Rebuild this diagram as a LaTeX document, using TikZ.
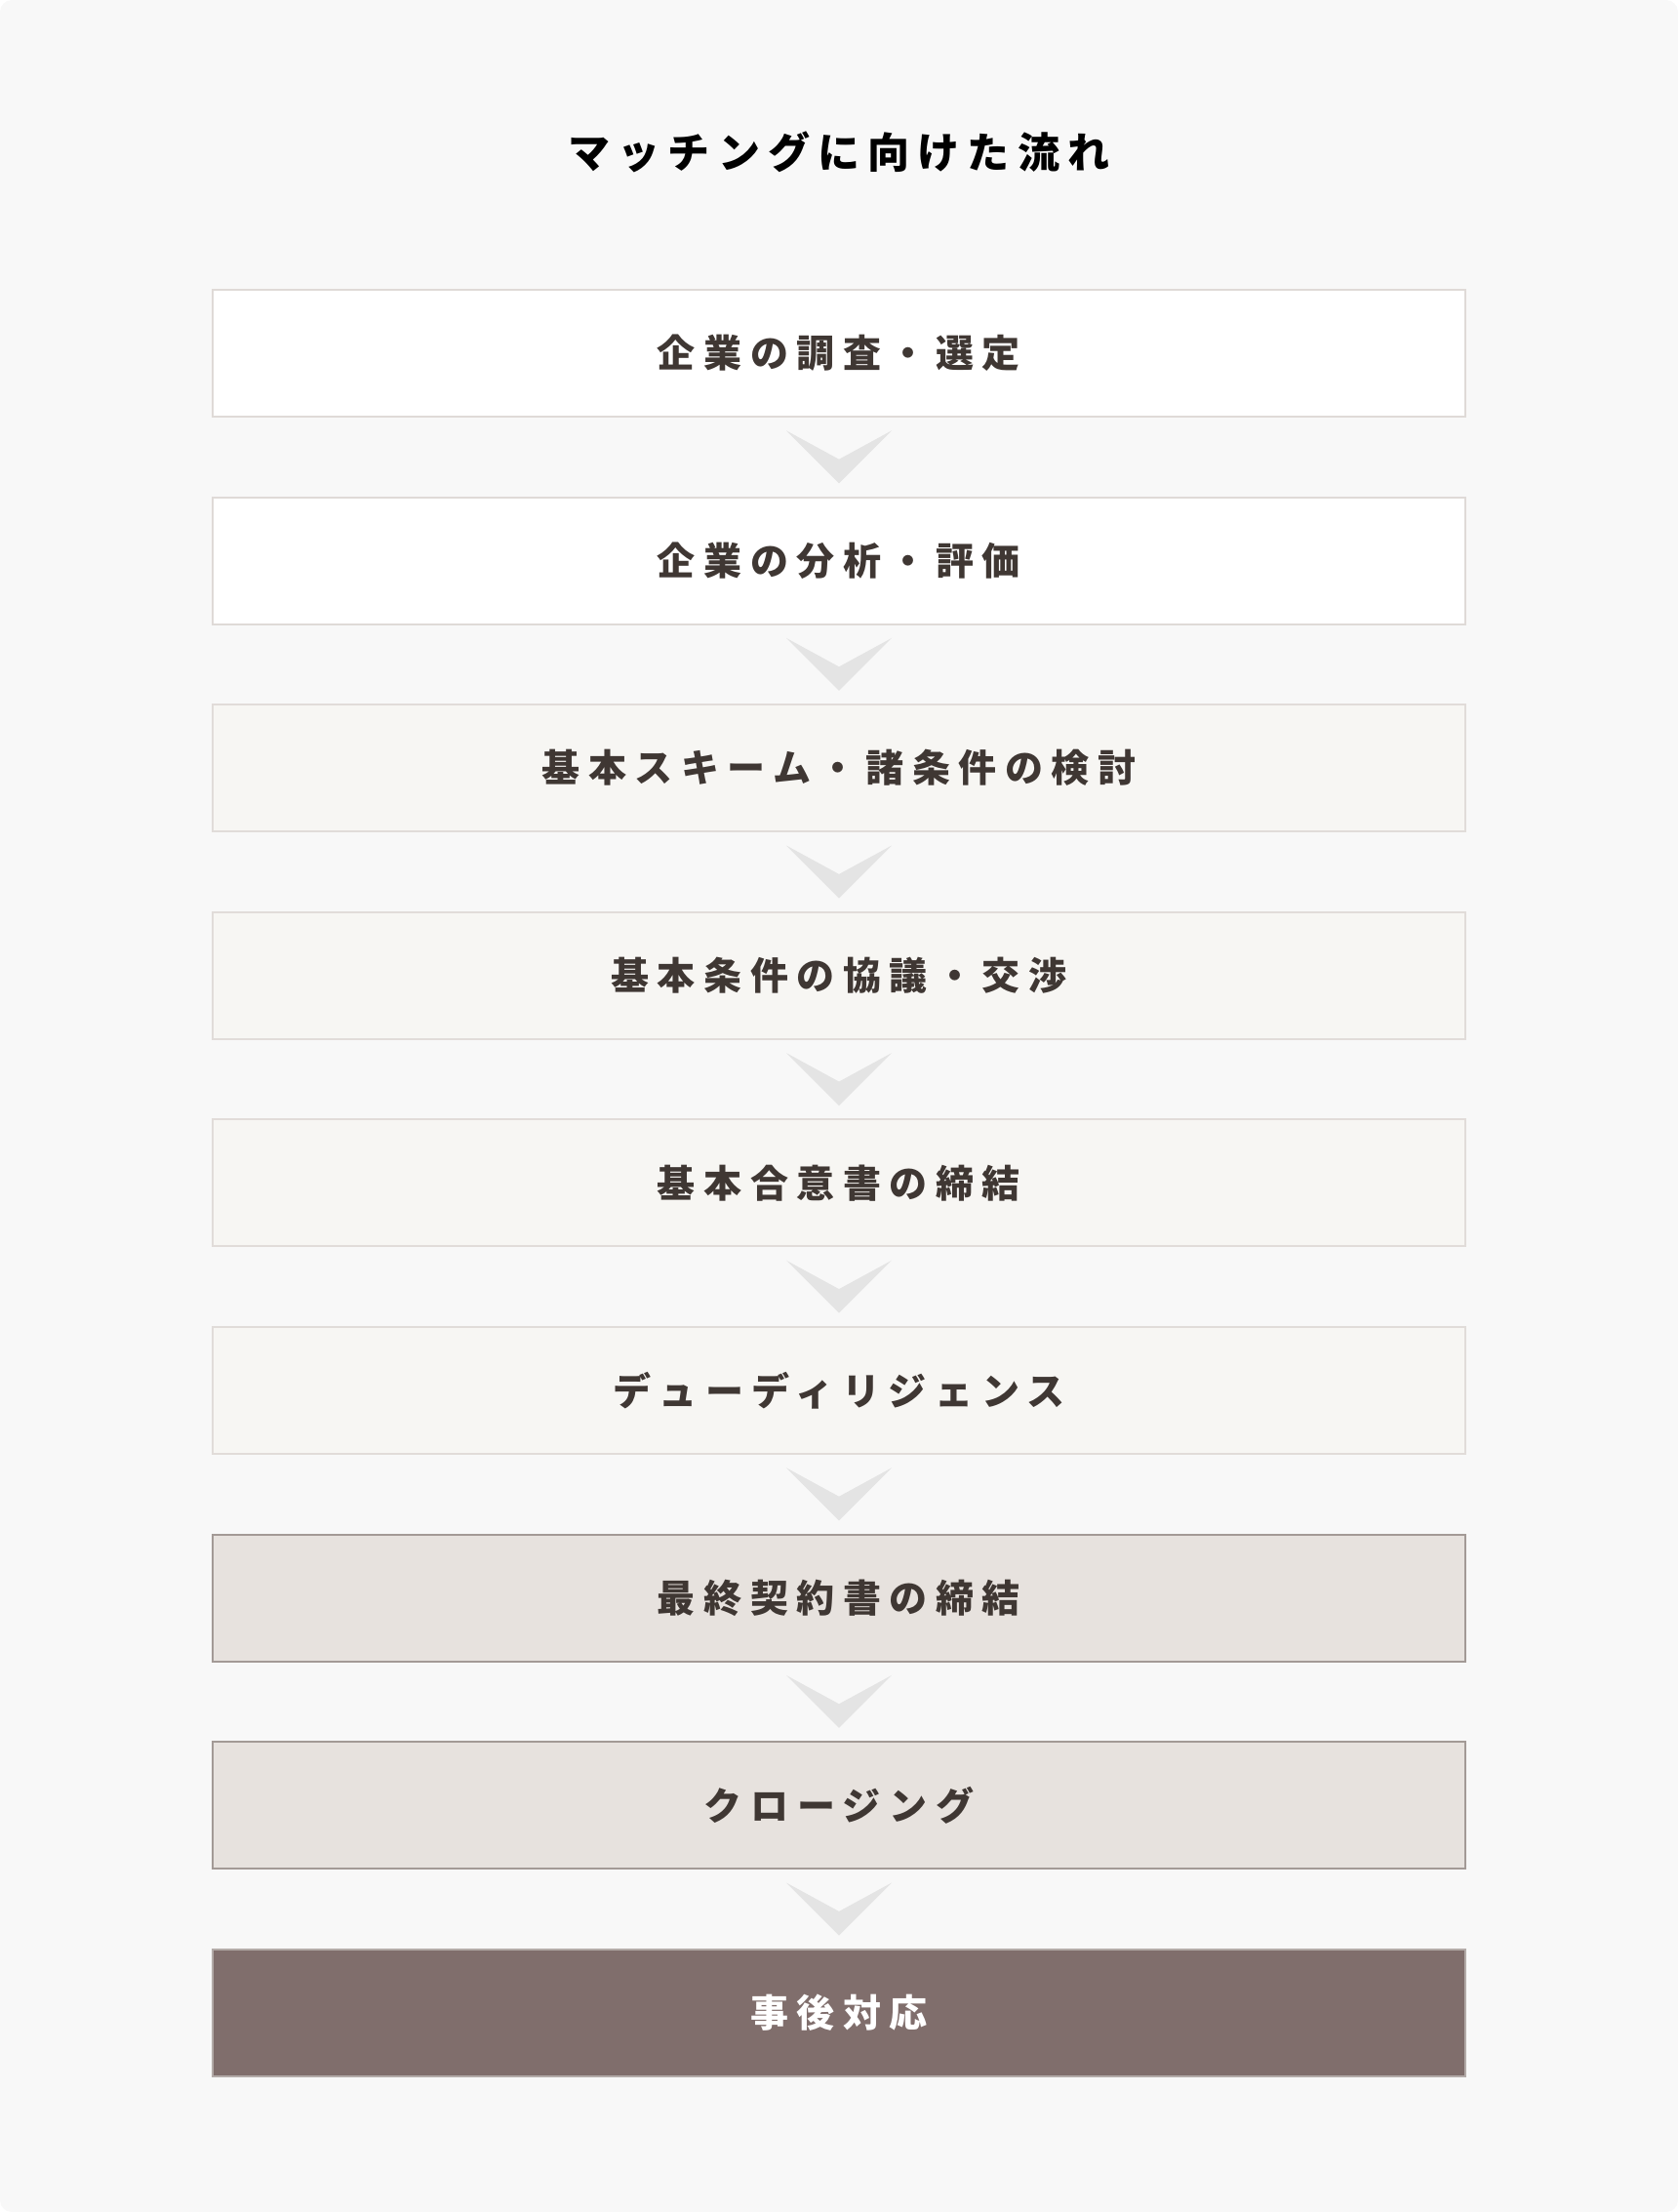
\documentclass[tikz,border=0pt]{standalone}
\usepackage{fontspec}
\setmainfont{Noto Sans CJK JP}
\newfontfamily\titlefont{Noto Sans CJK JP}[LetterSpace=19]
\newfontfamily\stepfont{Noto Sans CJK JP}[LetterSpace=22]
\usetikzlibrary{positioning, calc}

\definecolor{pagebg}{HTML}{F8F8F8}
\definecolor{inkbrown}{HTML}{3F3733}
\definecolor{chevgray}{HTML}{E4E4E4}
\definecolor{whiteline}{HTML}{DFDAD7}
\definecolor{creamfill}{HTML}{F7F6F3}
\definecolor{creamline}{HTML}{E1DCD9}
\definecolor{taupefill}{HTML}{E7E2DE}
\definecolor{taupeline}{HTML}{A39A96}
\definecolor{darkfill}{HTML}{806E6C}
\definecolor{darkline}{HTML}{B3ABA8}

\begin{document}
\begin{tikzpicture}[node distance=40.3pt, line width=1pt, style = {minimum width=642pt, minimum height=65pt}]
\tikzstyle{stepbox}=[rectangle, draw, font=\stepfont\bfseries\fontsize{19.5pt}{23pt}\selectfont, text=inkbrown]
\tikzstyle{plain}=[stepbox, fill=white, draw=whiteline]
\tikzstyle{cream}=[stepbox, fill=creamfill, draw=creamline]
\tikzstyle{taupe}=[stepbox, fill=taupefill, draw=taupeline]
\tikzstyle{dark}=[stepbox, fill=darkfill, draw=darkline, text=white]
\tikzstyle{chev}=[fill=chevgray]
\useasboundingbox (0,0) rectangle (860pt,-1133.5pt);
\fill[pagebg, rounded corners=6pt] (0,0) rectangle (860pt,-1133.5pt);
\node[font=\titlefont\bfseries\fontsize{21.5pt}{25pt}\selectfont, minimum width=0pt, minimum height=0pt](title) at (430pt,-78pt) {マッチングに向けた流れ};
\node[plain](n1) at (430pt,-181pt) {企業の調査・選定};
\node[plain](n2)[below = of n1] {企業の分析・評価};
\node[cream](n3)[below = of n2] {基本スキーム・諸条件の検討};
\node[cream](n4)[below = of n3] {基本条件の協議・交渉};
\node[cream](n5)[below = of n4] {基本合意書の締結};
\node[cream](n6)[below = of n5] {デューディリジェンス};
\node[taupe](n7)[below = of n6] {最終契約書の締結};
\node[taupe](n8)[below = of n7] {クロージング};
\node[dark](n9)[below = of n8] {事後対応};
\foreach \i in {1,...,8}{
  \pgfmathtruncatemacro\j{\i+1}
  \fill[chev] ($(n\i.south)!.5!(n\j.north)$) ++(-27pt,13.5pt) -- ++(27pt,-14.7pt) -- ++(27pt,14.7pt) -- ++(-27pt,-27pt) -- cycle;
}

\end{tikzpicture}
\end{document}
